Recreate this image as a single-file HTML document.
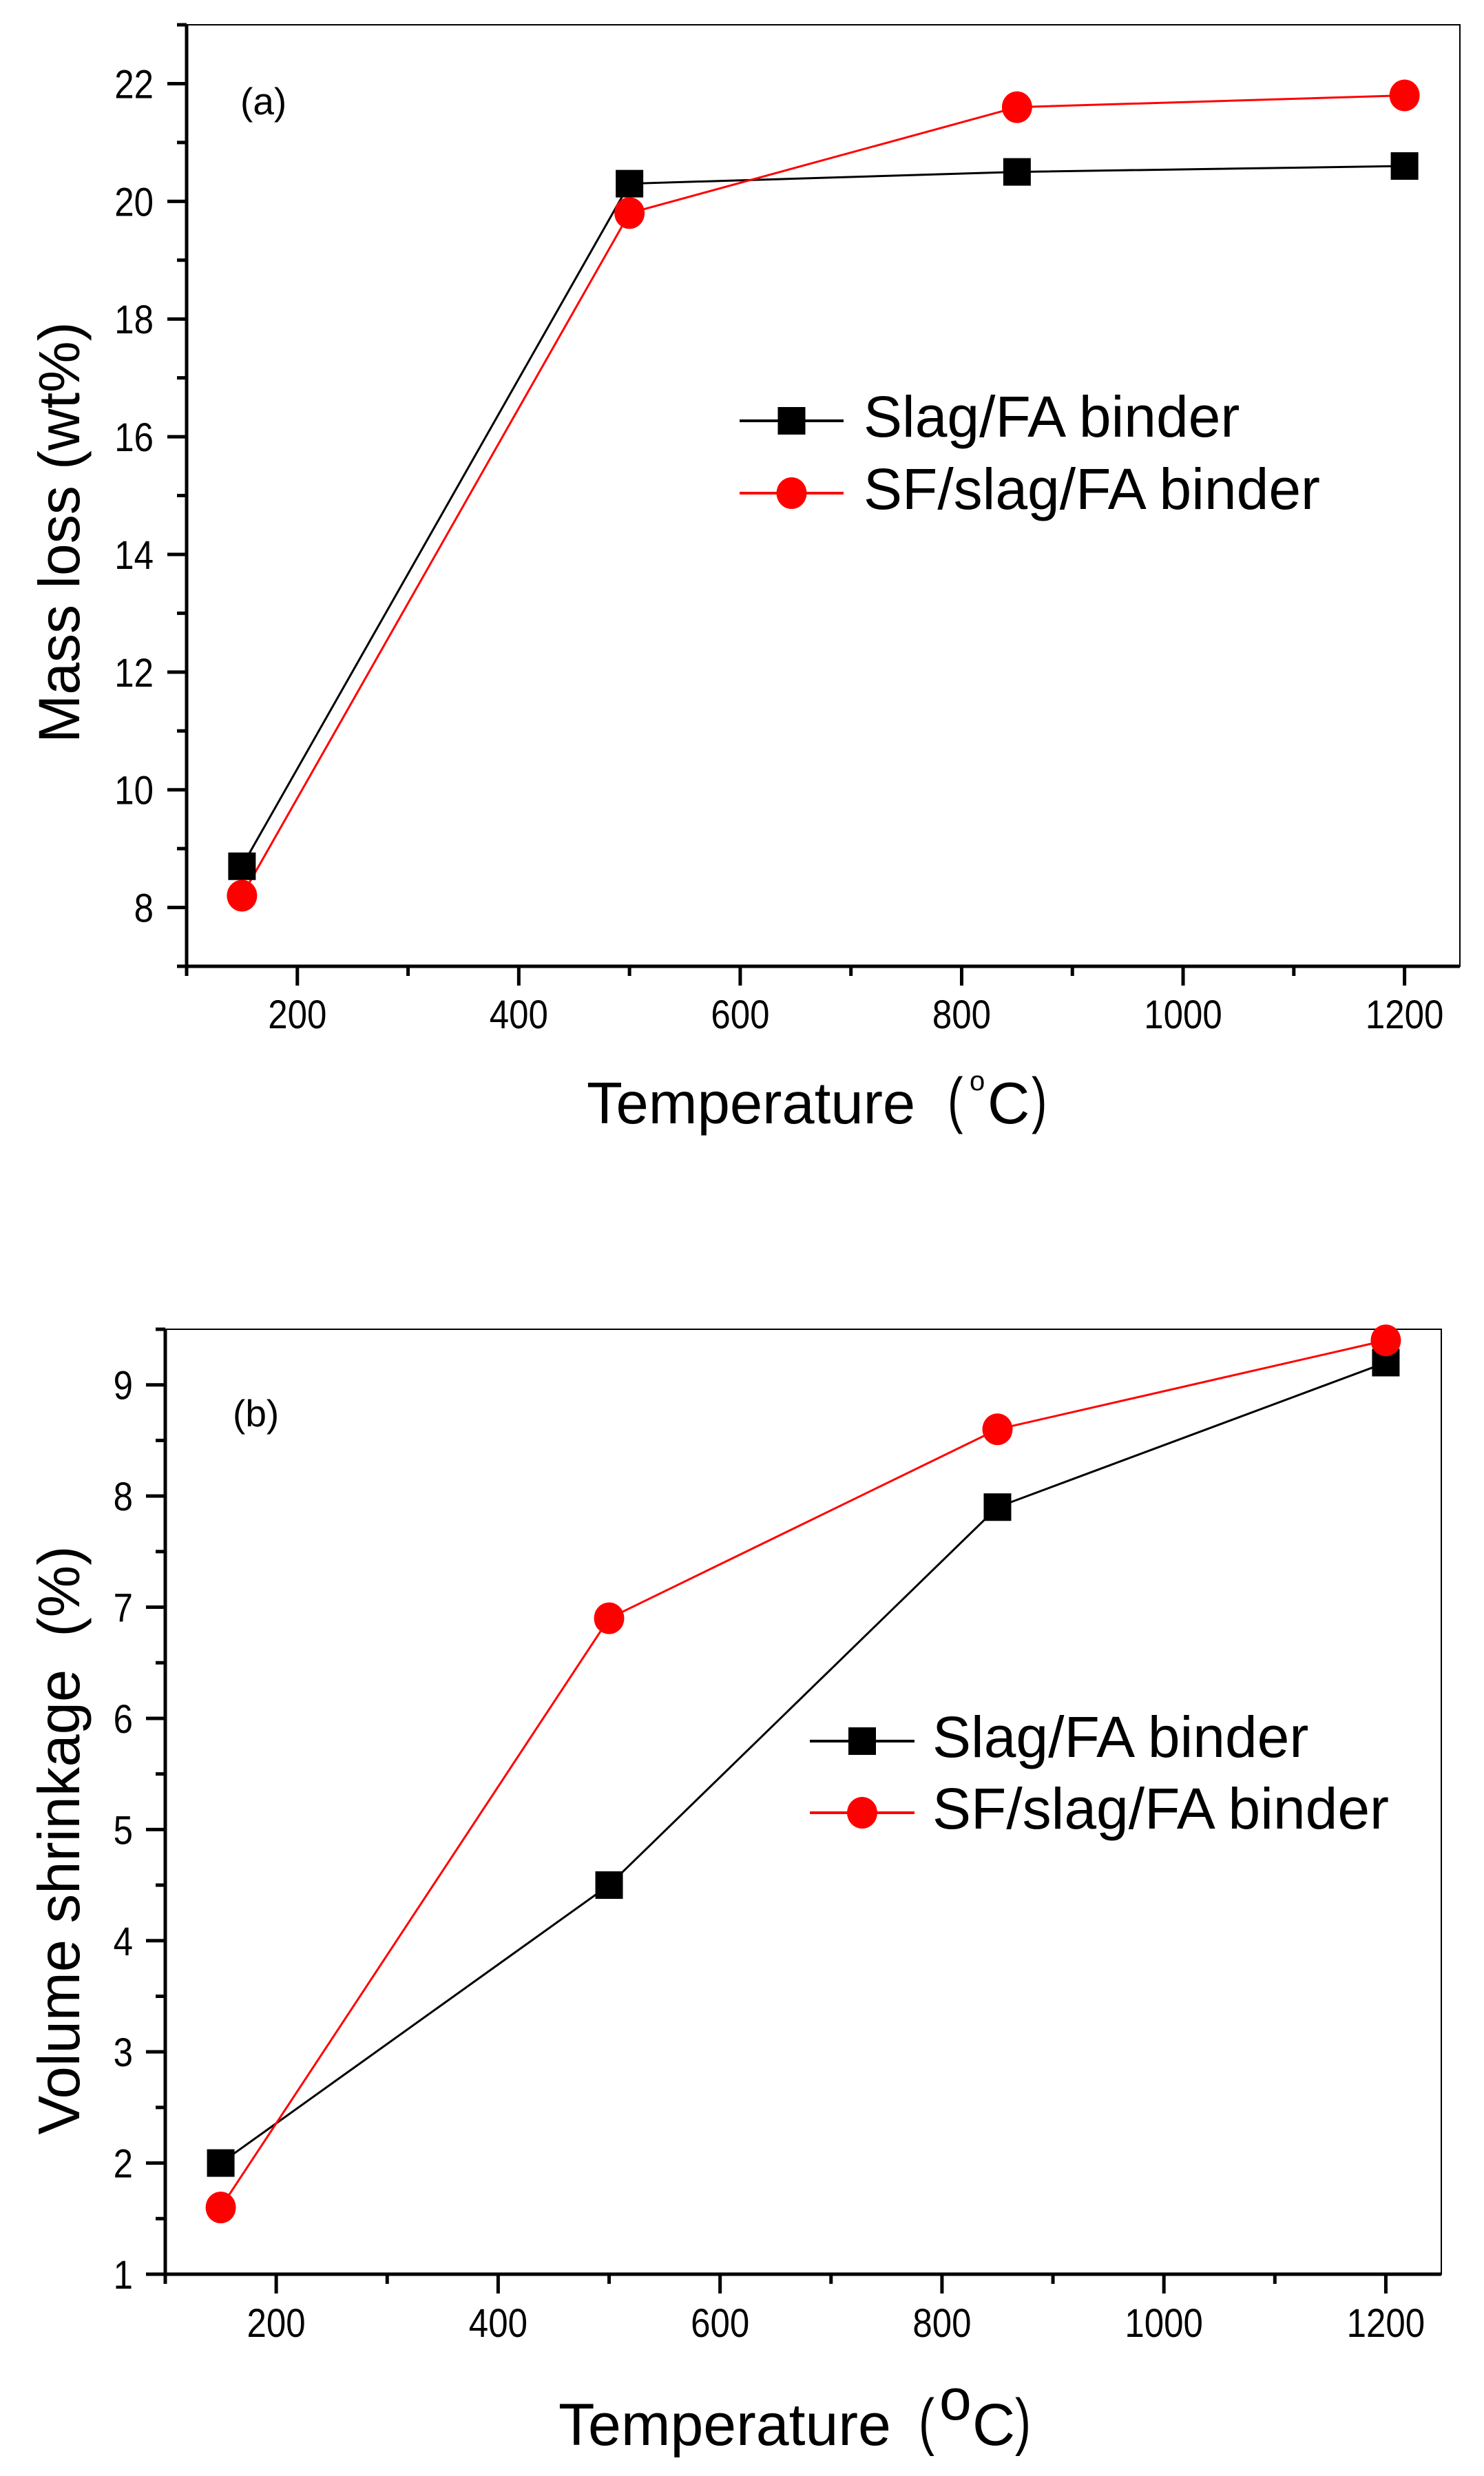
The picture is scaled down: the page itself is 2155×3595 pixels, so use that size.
<!DOCTYPE html>
<html><head><meta charset="utf-8">
<style>
html,body{margin:0;padding:0;background:#fff;}
svg{display:block;font-family:"Liberation Sans",Arial,sans-serif;}
</style></head>
<body>
<svg id="fig" width="2155" height="3595" viewBox="0 0 2155 3595" xmlns="http://www.w3.org/2000/svg">
<rect width="2155" height="3595" fill="#fff"/>
<g id="chartA"></g>
<g id="chartB"></g>
<text x="349" y="166" font-size="55">(a)</text>
<text x="338" y="2071" font-size="55">(b)</text>
<text transform="translate(115,773) rotate(-90)" text-anchor="middle" font-size="84">Mass loss (wt%)</text>
<text transform="translate(115,2672) rotate(-90)" text-anchor="middle" font-size="85" xml:space="preserve">Volume shrinkage  (%)</text>
<g font-size="85">
<text x="852" y="1631">Temperature</text>
<text x="1376" y="1628" font-size="90" transform="translate(1376,1628) scale(0.75,1) translate(-1376,-1628)">(</text>
<text x="1408" y="1583" font-size="40">o</text>
<text x="1434" y="1631">C</text>
<text x="1498" y="1628" font-size="90" transform="translate(1498,1628) scale(0.75,1) translate(-1498,-1628)">)</text>
</g>
<g font-size="86">
<text x="811" y="3550">Temperature</text>
<text x="1334" y="3547" font-size="92" transform="translate(1334,3547) scale(0.75,1) translate(-1334,-3547)">(</text>
<text x="1364" y="3513" font-size="84">o</text>
<text x="1412" y="3550">C</text>
<text x="1474" y="3547" font-size="92" transform="translate(1474,3547) scale(0.75,1) translate(-1474,-3547)">)</text>
</g>
</svg>
<script>
const temps = [150, 500, 850, 1200];
const massSlag = [8.7, 20.3, 20.5, 20.6];
const massSF = [8.2, 19.8, 21.6, 21.8];
const shrinkSlag = [2.0, 4.5, 7.9, 9.2];
const shrinkSF = [1.6, 6.9, 8.6, 9.4];
const xTickLabels = [200, 400, 600, 800, 1000, 1200];
const yTicksA = [8, 10, 12, 14, 16, 18, 20, 22];
const yTicksB = [1, 2, 3, 4, 5, 6, 7, 8, 9];
const legendLabels = ["Slag/FA binder", "SF/slag/FA binder"];

const NS = "http://www.w3.org/2000/svg";
function mk(tag, attrs, parent){
  const e = document.createElementNS(NS, tag);
  for (const k in attrs) e.setAttribute(k, attrs[k]);
  parent.appendChild(e);
  return e;
}
function narrow(x, y){ return "translate(" + x + "," + y + ") scale(0.88,1) translate(" + (-x) + "," + (-y) + ")"; }

function drawChart(g, cfg){
  const sx = v => cfg.L + (v - cfg.x0) / (cfg.x1 - cfg.x0) * (cfg.R - cfg.L);
  const sy = v => cfg.B - (v - cfg.y0) / (cfg.y1 - cfg.y0) * (cfg.B - cfg.T);
  const frame = mk("rect", {x: cfg.L, y: cfg.T, width: cfg.R - cfg.L, height: cfg.B - cfg.T, fill: "none", stroke: "#000", "stroke-width": 2}, g);
  
  
  const ax = mk("line", {x1: cfg.L - 14, y1: cfg.B, x2: cfg.R, y2: cfg.B, stroke: "#000", "stroke-width": 5}, g);
  
  
  const ay = mk("line", {x1: cfg.L, y1: cfg.T, x2: cfg.L, y2: cfg.B + 14, stroke: "#000", "stroke-width": 5}, g);
  
  
  for (let v = 100; v <= 1200; v += 100) {
    const major = v % 200 === 0;
    const t = mk("line", {x1: sx(v), y1: cfg.B, x2: sx(v), y2: cfg.B + (major ? 28 : 14), stroke: "#000", "stroke-width": 5}, g);
    
    
  }
  xTickLabels.forEach(v => {
    const t = mk("text", {x: sx(v), y: cfg.xLabelY, "text-anchor": "middle", "font-size": 58, transform: narrow(sx(v), cfg.xLabelY)}, g);
    t.textContent = v;
    
    
  });
  for (let v = cfg.y0; v <= cfg.y1 + 1e-9; v += cfg.minorStep) {
    const major = cfg.yTicks.some(m => Math.abs(m - v) < 1e-6);
    const t = mk("line", {x1: cfg.L - (major ? 28 : 14), y1: sy(v), x2: cfg.L, y2: sy(v), stroke: "#000", "stroke-width": 5}, g);
    
    
  }
  cfg.yTicks.forEach(v => {
    const t = mk("text", {x: cfg.yLabelX, y: sy(v) + 21, "text-anchor": "end", "font-size": 58, transform: narrow(cfg.yLabelX, sy(v) + 21)}, g);
    t.textContent = v;
    
    
  });
  const series = [
    {vals: cfg.s1, color: "#000", shape: "square", name: "slag-fa"},
    {vals: cfg.s2, color: "#ff0000", shape: "circle", name: "sf-slag-fa"}
  ];
  series.forEach(s => {
    const pts = temps.map((t, i) => sx(t) + "," + sy(s.vals[i])).join(" ");
    const pl = mk("polyline", {points: pts, fill: "none", stroke: s.color, "stroke-width": 3}, g);
    
    
  });
  series.forEach(s => {
    temps.forEach((t, i) => {
      let m;
      if (s.shape === "square") {
        m = mk("rect", {x: sx(t) - 20, y: sy(s.vals[i]) - 20, width: 40, height: 40, fill: s.color}, g);
      } else {
        m = mk("ellipse", {cx: sx(t), cy: sy(s.vals[i]), rx: 22, ry: 23, fill: s.color}, g);
      }
      
      
    });
  });
  series.forEach((s, i) => {
    const ly = cfg.legY[i];
    const lg = mk("g", {}, g);
    
    
    mk("line", {x1: cfg.legX1, y1: ly, x2: cfg.legX2, y2: ly, stroke: s.color, "stroke-width": 4}, lg);
    const cx = (cfg.legX1 + cfg.legX2) / 2;
    if (s.shape === "square") mk("rect", {x: cx - 20, y: ly - 20, width: 40, height: 40, fill: s.color}, lg);
    else mk("ellipse", {cx: cx, cy: ly, rx: 22, ry: 23, fill: s.color}, lg);
    const tx = mk("text", {x: cfg.legTextX, y: ly + 23, "font-size": 84}, lg);
    tx.textContent = legendLabels[i];
  });
}

drawChart(document.getElementById("chartA"), {
  L: 271, R: 2120, T: 36, B: 1403, x0: 100, x1: 1250, y0: 7, y1: 23,
  yTicks: yTicksA, minorStep: 1, s1: massSlag, s2: massSF,
  xLabelY: 1493, yLabelX: 223,
  legX1: 1074, legX2: 1225, legY: [611, 716], legTextX: 1254
});
drawChart(document.getElementById("chartB"), {
  L: 240, R: 2093, T: 1930, B: 3302, x0: 100, x1: 1250, y0: 1, y1: 9.5,
  yTicks: yTicksB, minorStep: 0.5, s1: shrinkSlag, s2: shrinkSF,
  xLabelY: 3393, yLabelX: 193,
  legX1: 1176, legX2: 1328, legY: [2528, 2632], legTextX: 1354
});
</script>
</body></html>
